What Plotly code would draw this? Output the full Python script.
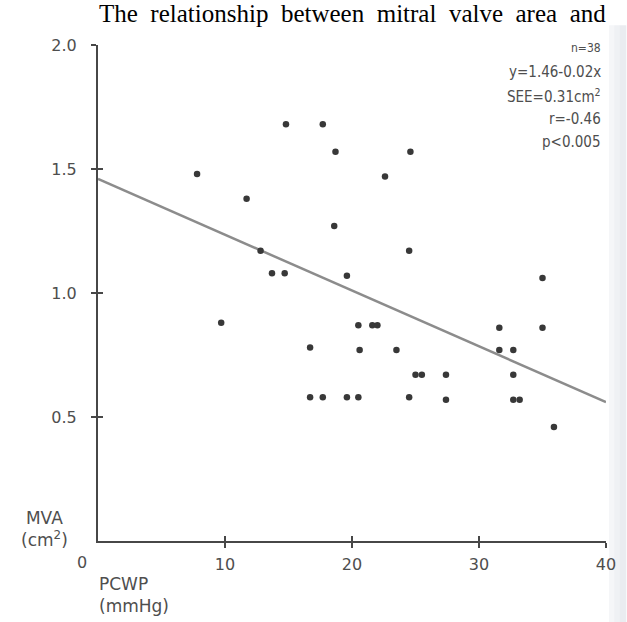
import plotly.graph_objects as go

# PCWP (mmHg) and mitral valve area (cm^2) for each of the 38 patients
pcwp = [7.8, 11.7, 12.8, 13.7, 14.7, 14.8, 17.7, 18.7, 18.6, 19.6, 22.6, 24.6, 24.5, 35.0,
        9.7, 16.7, 16.7, 17.7, 19.6, 20.5, 21.6, 22.0, 31.6, 35.0, 20.6, 23.5, 31.6, 32.7,
        25.0, 25.5, 27.4, 32.7, 20.5, 24.5, 27.4, 32.7, 33.2, 35.9]
mva = [1.48, 1.38, 1.17, 1.08, 1.08, 1.68, 1.68, 1.57, 1.27, 1.07, 1.47, 1.57, 1.17, 1.06,
       0.88, 0.78, 0.58, 0.58, 0.58, 0.87, 0.87, 0.87, 0.86, 0.86, 0.77, 0.77, 0.77, 0.77,
       0.67, 0.67, 0.67, 0.67, 0.58, 0.58, 0.57, 0.57, 0.57, 0.46]

# regression line y = a + b*x
intercept = 1.46
slope = -0.0225

x_ticks = [10, 20, 30, 40]
x_tick_labels = ["10", "20", "30", "40"]
y_ticks = [0.5, 1.0, 1.5, 2.0]
y_tick_labels = ["0.5", "1.0", "1.5", "2.0"]

stats_lines = ["n=38", "y=1.46-0.02x", "SEE=0.31cm<sup>2</sup>", "r=-0.46", "p<0.005"]
title_words = ["The", "relationship", "between", "mitral", "valve", "area", "and"]

X_RANGE = [0, 40]
Y_RANGE = [0, 2.0]

AXIS_COLOR = "#474747"
LABEL_COLOR = "#4e4e4e"
SANS_NARROW = "DejaVu Sans Condensed, Liberation Sans Narrow, DejaVu Sans, sans-serif"
SANS_WIDE = "DejaVu Sans, Verdana, sans-serif"

fig = go.Figure()

line_x = X_RANGE
line_y = [intercept + slope * v for v in line_x]
fig.add_trace(go.Scatter(
    x=line_x, y=line_y, mode="lines",
    line=dict(color="#8c8c8c", width=2.5),
    hoverinfo="skip", showlegend=False,
))

fig.add_trace(go.Scatter(
    x=pcwp, y=mva, mode="markers",
    marker=dict(size=6.5, color="#383838"),
    showlegend=False,
))

# companion axes drawing the inner half of each cross-shaped tick
fig.add_trace(go.Scatter(x=[], y=[], xaxis="x2", yaxis="y2", showlegend=False))

axis_common = dict(
    showgrid=False, zeroline=False, showline=True,
    linecolor=AXIS_COLOR, linewidth=2,
    tickcolor=AXIS_COLOR, tickwidth=2, ticklen=5,
)

fig.update_layout(
    width=627, height=622,
    margin=dict(l=98, r=11, t=45, b=81),
    paper_bgcolor="white", plot_bgcolor="white",
    xaxis=dict(range=X_RANGE, tickvals=x_ticks, ticktext=x_tick_labels,
               ticks="outside", ticklabelstandoff=3,
               tickfont=dict(family=SANS_WIDE, size=16, color=LABEL_COLOR),
               **axis_common),
    yaxis=dict(range=Y_RANGE, tickvals=y_ticks, ticktext=y_tick_labels,
               ticks="outside", ticklabelstandoff=11,
               tickfont=dict(family=SANS_WIDE, size=16, color=LABEL_COLOR),
               **axis_common),
    xaxis2=dict(range=X_RANGE, tickvals=x_ticks, ticks="inside", overlaying="x",
                showticklabels=False, anchor="y2", **axis_common),
    yaxis2=dict(range=Y_RANGE, tickvals=y_ticks, ticks="inside", overlaying="y",
                showticklabels=False, anchor="x2", **axis_common),
)

annotations = []

# heading line, set with generous word spacing
annotations.append(dict(
    text=" \u00a0".join(title_words), xref="paper", yref="paper", x=0.5, y=1,
    yshift=32, xanchor="center", yanchor="middle", showarrow=False,
    font=dict(family="Liberation Serif, Times New Roman, serif", size=25, color="black"),
))

# statistics block, right aligned in the upper right corner
stat_rows_px = [48, 72, 96, 119, 142]
for i, (txt, ypx) in enumerate(zip(stats_lines, stat_rows_px)):
    annotations.append(dict(
        text=txt, xref="paper", yref="paper", x=1, y=1,
        xshift=-3, yshift=45 - ypx, xanchor="right", yanchor="middle", showarrow=False,
        font=dict(family=SANS_NARROW, size=12 if i == 0 else 15, color=LABEL_COLOR),
    ))

# shared origin label
annotations.append(dict(
    text="0", xref="x", yref="y", x=0, y=0, xshift=-16, yshift=-21,
    xanchor="center", yanchor="middle", showarrow=False,
    font=dict(family=SANS_WIDE, size=16, color=LABEL_COLOR),
))

# axis titles
annotations.append(dict(
    text="MVA<br>(cm<sup>2</sup>)", xref="paper", yref="paper", x=0, y=0,
    xshift=-54, yshift=12, xanchor="center", yanchor="middle", showarrow=False,
    align="center", font=dict(family=SANS_WIDE, size=17, color=LABEL_COLOR),
))
annotations.append(dict(
    text="PCWP<br>(mmHg)", xref="paper", yref="paper", x=0, y=0,
    xshift=-1, yshift=-54, xanchor="left", yanchor="middle", showarrow=False,
    align="left", font=dict(family=SANS_WIDE, size=17, color=LABEL_COLOR),
))

fig.update_layout(annotations=annotations)

# faint grey edge of the page on the right
band = [(1.006, 1.016, "#f5f6f8"), (1.016, 1.026, "#eff1f4"), (1.026, 1.04, "#eaecf0")]
fig.update_layout(shapes=[
    dict(type="rect", xref="paper", yref="paper", x0=a, x1=b, y0=-0.2, y1=1.04,
         fillcolor=c, line=dict(width=0), layer="below")
    for a, b, c in band
])

fig.write_html("out.html")
